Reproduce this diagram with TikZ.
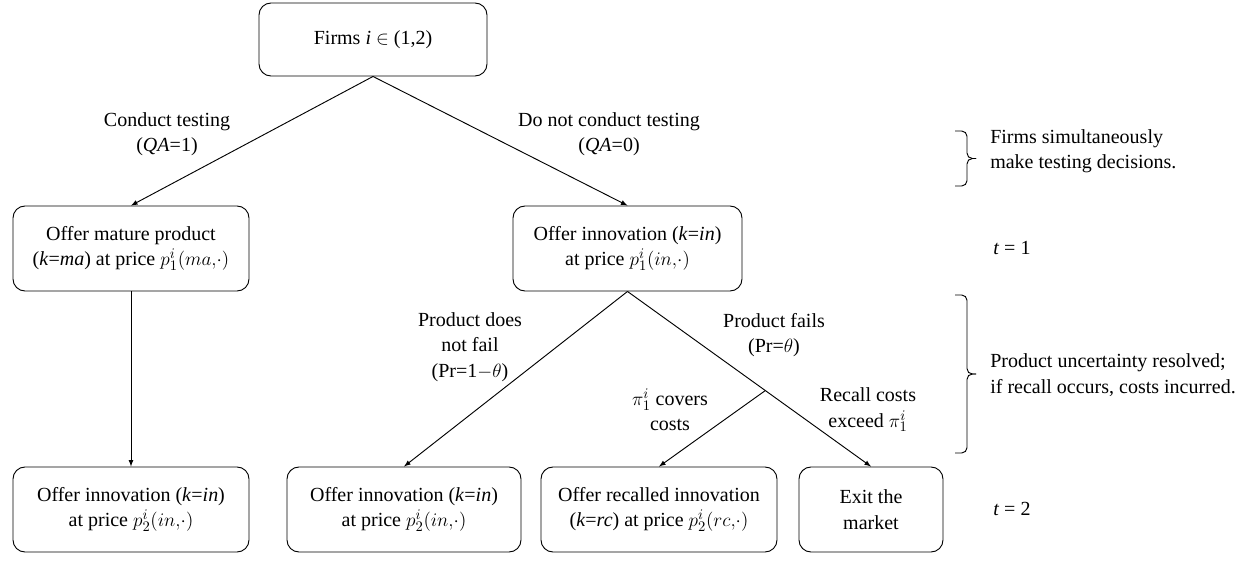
\documentclass[tikz,border=0pt]{standalone}
\usepackage{fontspec}
\setmainfont{Liberation Serif}
\usetikzlibrary{arrows}
\tikzset{
  stage/.style={draw,line width=0.7pt,rounded corners=9pt,align=center,inner sep=2pt},
  branch/.style={align=center,inner sep=1pt},
  note/.style={align=left,anchor=west,inner sep=0pt},
  move/.style={-latex,line width=0.7pt},
  period/.style={line width=0.7pt,rounded corners=4pt}
}
\begin{document}
\begin{tikzpicture}[font=\fontsize{15}{19}\selectfont]
\begin{scope}[x=0.75pt,y=-0.75pt]
\useasboundingbox (0,0) rectangle (1255,573);

% stages
\node[stage,minimum width=171pt,minimum height=54.75pt] (firms) at (373,39.5) {Firms \textit{i} $\in$ (1,2)};
\node[stage,minimum width=177pt,minimum height=63.75pt] (mature) at (131,248.5) {Offer mature product\\(\textit{k}=\textit{ma}) at price $p_1^i(ma{,}\cdot)$};
\node[stage,minimum width=171.75pt,minimum height=63.75pt] (innov) at (627.5,248.5) {Offer innovation (\textit{k}=\textit{in})\\at price $p_1^i(in{,}\cdot)$};
\node[stage,minimum width=177pt,minimum height=63.75pt] (late) at (131,509.5) {Offer innovation (\textit{k}=\textit{in})\\at price $p_2^i(in{,}\cdot)$};
\node[stage,minimum width=175.5pt,minimum height=63.75pt] (keep) at (404,509.5) {Offer innovation (\textit{k}=\textit{in})\\at price $p_2^i(in{,}\cdot)$};
\node[stage,minimum width=177pt,minimum height=63.75pt] (recalled) at (659,509.5) {Offer recalled innovation\\(\textit{k}=\textit{rc}) at price $p_2^i(rc{,}\cdot)$};
\node[stage,minimum width=108pt,minimum height=63.75pt] (exit) at (871,509.5) {Exit the\\market};

% moves
\draw[move] (firms.south) -- (mature.north);
\draw[move] (firms.south) -- (innov.north);
\draw[move] (mature.south) -- (late.north);
\draw[move] (innov.south) -- (keep.north);
\draw[move] (innov.south) -- coordinate[pos=0.566] (fork) (exit.north);
\draw[move] (fork) -- (recalled.north);

% branch labels
\node[branch] (test) at (167,134) {Conduct testing\\(\textit{QA}=1)};
\node[branch] (notest) at (609,134) {Do not conduct testing\\(\textit{QA}=0)};
\node[branch] (nofail) at (470,347) {Product does\\not fail\\(Pr=1$-\theta$)};
\node[branch] (fails) at (774,335) {Product fails\\(Pr=$\theta$)};
\node[branch] (covers) at (670,410) {$\pi_1^i$ covers\\costs};
\node[branch] (exceed) at (868,410) {Recall costs\\exceed $\pi_1^i$};

% timing
\draw[period] (955,131) -- (967,131) -- (967,158.5) -- (976,158.5);
\draw[period] (955,186) -- (967,186) -- (967,158.5) -- (976,158.5);
\draw[period] (955,295) -- (967,295) -- (967,374) -- (976,374);
\draw[period] (955,453) -- (967,453) -- (967,374) -- (976,374);
\node[note] (decide) at (990,151) {Firms simultaneously\\make testing decisions.};
\node[note] (one) at (993,248) {\textit{t} = 1};
\node[note] (resolve) at (990,375) {Product uncertainty resolved;\\if recall occurs, costs incurred.};
\node[note] (two) at (993,509) {\textit{t} = 2};

\end{scope}
\end{tikzpicture}
\end{document}
